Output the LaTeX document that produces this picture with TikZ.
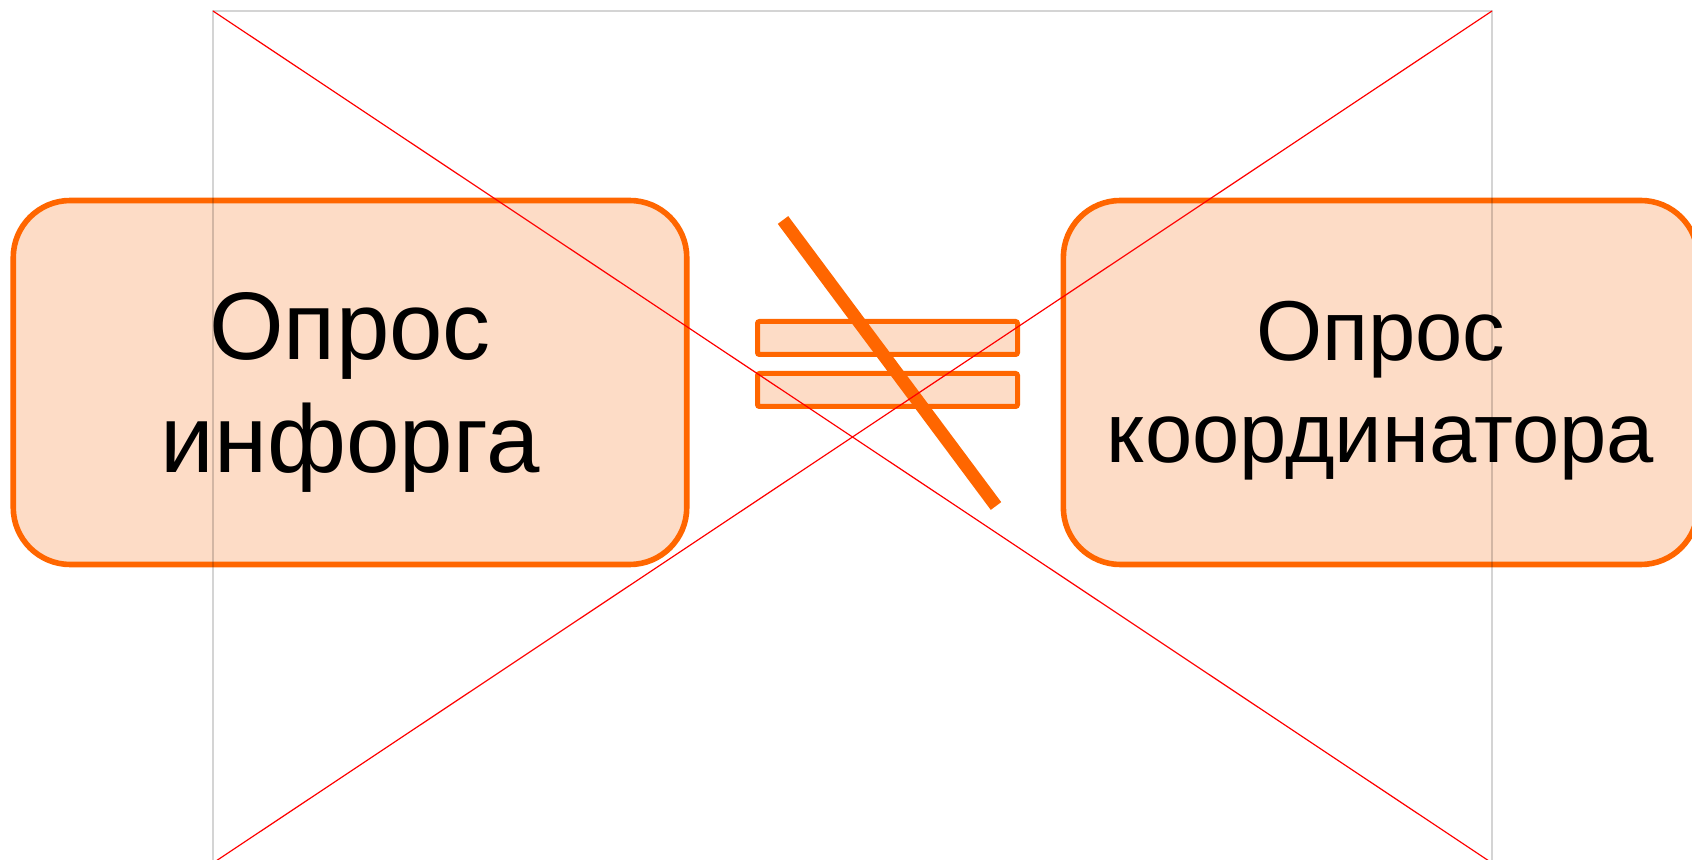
\documentclass[tikz,border=0pt]{standalone}
\usepackage{fontspec}
\setmainfont{Liberation Sans}
\usetikzlibrary{positioning}

\definecolor{peach}{RGB}{253,220,198}
\definecolor{pollorange}{RGB}{255,102,0}

\newcommand{\boxstrut}{\rule[-.212em]{0pt}{1.117em}}

\tikzset{
  stage/.style={draw=pollorange, fill=peach, line width=2.8pt,
    rounded corners=28.5pt, align=center, minimum height=182pt, inner sep=0pt},
  bar/.style={draw=pollorange, fill=peach, line width=2.5pt,
    rounded corners=1pt, minimum width=130pt, minimum height=16.5pt, inner sep=0pt},
}

\begin{document}
\begin{tikzpicture}[x=0.5pt,y=-0.5pt]
  \useasboundingbox (0,0) rectangle (1692,860);

  % Define nodes
  \node[stage, minimum width=336.75pt, font=\fontsize{48pt}{56.5pt}\selectfont]
    (inforg) at (350,382.5) {\boxstrut Опрос\\инфорга\boxstrut};
  \node[stage, minimum width=317.25pt, font=\fontsize{42.5pt}{51pt}\selectfont,
    right=185.5pt of inforg] (coord) {\boxstrut Опрос\\координатора\boxstrut};

  \node[bar]                    (upper) at (887.5,338) {};
  \node[bar, below=7pt of upper] (lower) {};

  % Strike through the equals sign
  \coordinate (strike top) at (783,220);
  \coordinate (strike end) at (996,506);
  \draw[pollorange, line width=6.5pt] (strike top) -- (strike end);

  % Frame and cross
  \coordinate (tl) at (213,11);
  \coordinate (br) at (1492,863);
  \draw[black, opacity=.17, line width=1pt] (tl) rectangle (br);
  \draw[red, line width=.6pt] (tl) -- (br);
  \draw[red, line width=.6pt] (tl -| br) -- (tl |- br);
\end{tikzpicture}
\end{document}
